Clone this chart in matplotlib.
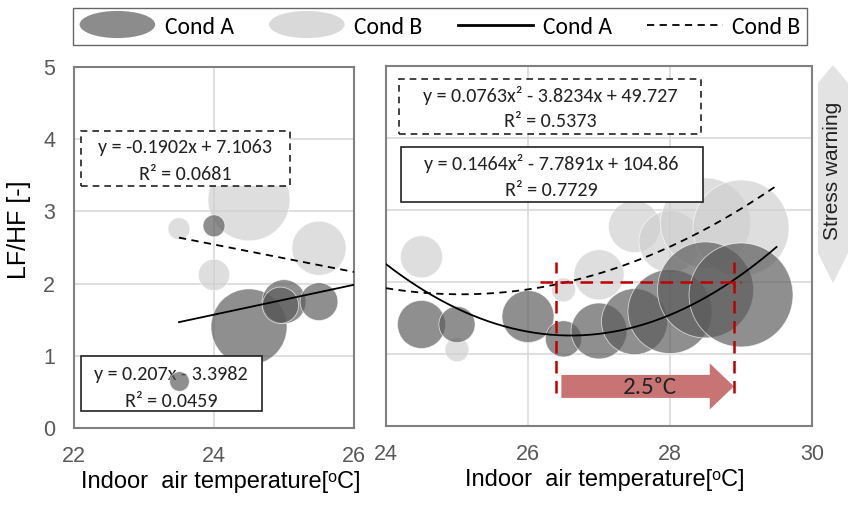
import matplotlib
matplotlib.use("Agg")
import matplotlib.pyplot as plt
import matplotlib.patches as mpatches
from matplotlib.lines import Line2D
from matplotlib.legend_handler import HandlerPatch
import numpy as np

# ---- data -------------------------------------------------------------
# left panel: bubbles (temperature, LF/HF, bubble weight)
left_a_temp = [24.0, 24.5, 25.0, 24.95, 25.5, 23.5]
left_a_lfhf = [2.80, 1.40, 1.75, 1.70, 1.75, 0.65]
left_a_weight = [12.5, 150, 50, 34, 37, 10]

left_b_temp = [24.5, 23.5, 24.0, 25.5]
left_b_lfhf = [3.16, 2.76, 2.12, 2.49]
left_b_weight = [174, 12.5, 25.5, 76]

# right panel
right_a_temp = [24.5, 25.0, 26.0, 26.5, 27.0, 27.5, 28.0, 28.5, 29.0]
right_a_lfhf = [1.41, 1.41, 1.52, 1.21, 1.32, 1.45, 1.59, 1.89, 1.82]
right_a_weight = [60, 34, 70, 34, 81, 113, 183, 239, 280]

right_b_temp = [24.5, 25.0, 26.5, 27.0, 27.5, 28.0, 28.5, 29.0]
right_b_lfhf = [2.35, 1.06, 1.89, 2.10, 2.77, 2.56, 2.82, 2.75]
right_b_weight = [46, 15, 15, 65, 70, 100, 210, 239]

# fitted trend lines
left_fit_a = [0.207, -3.3982]           # linear
left_fit_b = [-0.1902, 7.1063]
left_fit_range = [23.5, 26.0]
right_fit_a = [0.1464, -7.7891, 104.86]  # quadratic
right_fit_b = [0.0763, -3.8234, 49.727]
right_fit_range = [24.0, 29.5]

# stress threshold
lfhf_threshold = 2.0
temp_low, temp_high = 26.4, 28.9
shift_label = "2.5ᵒC"

# ---- styling ------------------------------------------------------------
DARK = "#5a5a5a"
LIGHT = "#cfcfcf"
GRID = "#d9d9d9"
FRAME = "#808080"
TICK = "#595959"
RED = "#c00000"
ARROW = "#c97474"
SCALE = 20.0

SANS = ["Liberation Sans", "DejaVu Sans"]
EQ = ["Carlito", "DejaVu Sans"]

fig = plt.figure(figsize=(8.48, 5.05), dpi=100)
W, H = 848.0, 505.0


def axes_px(x0, y0, x1, y1):
    return fig.add_axes([x0 / W, 1 - y1 / H, (x1 - x0) / W, (y1 - y0) / H])


axL = axes_px(74, 67, 354, 428)
axR = axes_px(386, 66, 812, 426)


def style_axes(ax, xlim, xticks, show_y, label_shift):
    ax.set_xlim(*xlim)
    ax.set_ylim(0, 5)
    ax.set_xticks(xticks)
    ax.set_yticks([0, 1, 2, 3, 4, 5])
    ax.grid(True, color=GRID, linewidth=1.2, zorder=0)
    ax.set_axisbelow(True)
    for sp in ax.spines.values():
        sp.set_color(FRAME)
        sp.set_linewidth(1.5)
    ax.tick_params(length=0, colors=TICK, labelsize=15.5, pad=13)
    ax.tick_params(axis="y", pad=13.5)
    for lab in ax.get_xticklabels() + ax.get_yticklabels():
        lab.set_family(SANS)
    if not show_y:
        ax.set_yticklabels([])
    ax.set_xlabel("Indoor  air temperature[ᵒC]", family=SANS, fontsize=17,
                  color="black", labelpad=2.5)
    ax.xaxis.label.set_x(0.5 + label_shift)


style_axes(axL, (22, 26), [22, 24, 26], True, 0.025)
style_axes(axR, (24, 30), [24, 26, 28, 30], False, 0.014)


def bubbles(ax, t, v, w, color, z):
    ax.scatter(t, v, s=np.array(w) * SCALE, color=color, alpha=0.68,
               edgecolors="white", linewidths=0.6, zorder=z, clip_on=True)


bubbles(axL, left_b_temp, left_b_lfhf, left_b_weight, LIGHT, 2)
bubbles(axL, left_a_temp, left_a_lfhf, left_a_weight, DARK, 3)
bubbles(axR, right_b_temp, right_b_lfhf, right_b_weight, LIGHT, 2)
bubbles(axR, right_a_temp, right_a_lfhf, right_a_weight, DARK, 3)

xl = np.linspace(*left_fit_range, 50)
axL.plot(xl, np.polyval(left_fit_a, xl), color="black", lw=1.3, zorder=5)
axL.plot(xl, np.polyval(left_fit_b, xl), color="black", lw=1.3,
         dashes=(4, 3), zorder=5)
xr = np.linspace(*right_fit_range, 200)
axR.plot(xr, np.polyval(right_fit_a, xr), color="black", lw=1.3, zorder=5)
axR.plot(xr, np.polyval(right_fit_b, xr), color="black", lw=1.3,
         dashes=(4, 3), zorder=5)


def eq_box(ax, x0, y0, x1, y1, lines, ys, dashed):
    rect = mpatches.Rectangle((x0, y0), x1 - x0, y1 - y0, transform=ax.transAxes,
                              facecolor="white", edgecolor="#222222", lw=1.2,
                              linestyle=(0, (4, 3)) if dashed else "-", zorder=6)
    ax.add_patch(rect)
    xc = (x0 + x1) / 2
    for txt, yy in zip(lines, ys):
        ax.text(xc, yy, txt, transform=ax.transAxes, ha="center", va="center",
                family=EQ, fontsize=14.5, color="#222222", zorder=7)


eq_box(axL, 0.024, 0.671, 0.771, 0.824,
       ["y = -0.1902x + 7.1063", "R² = 0.0681"], [0.778, 0.703], True)
eq_box(axL, 0.024, 0.047, 0.670, 0.199,
       ["y = 0.207x - 3.3982", "R² = 0.0459"], [0.147, 0.073], False)
eq_box(axR, 0.0305, 0.811, 0.739, 0.964,
       ["y = 0.0763x² - 3.8234x + 49.727", "R² = 0.5373"], [0.919, 0.845], True)
eq_box(axR, 0.0345, 0.622, 0.743, 0.775,
       ["y = 0.1464x² - 7.7891x + 104.86", "R² = 0.7729"], [0.728, 0.654], False)

# bring the small left bubble in front of its equation box
axL.scatter(left_a_temp[-1:], left_a_lfhf[-1:], s=np.array(left_a_weight[-1:]) * SCALE,
            color=DARK, alpha=0.68, edgecolors="white", linewidths=0.6, zorder=8)

# threshold guides
red_kw = dict(color=RED, lw=1.8, dashes=(5, 3), zorder=9)
axR.plot([26.17, 29.0], [lfhf_threshold, lfhf_threshold], **red_kw)
axR.plot([temp_low, temp_low], [0.46, 2.28], **red_kw)
axR.plot([temp_high, temp_high], [0.46, 2.28], **red_kw)

arrow = mpatches.FancyArrow(temp_low + 0.07, 0.55, temp_high - temp_low - 0.07, 0,
                            width=0.32, head_width=0.64, head_length=0.34,
                            length_includes_head=True, color=ARROW, lw=0, zorder=8)
axR.add_patch(arrow)
axR.text(27.72, 0.53, shift_label, ha="center", va="center", family=EQ,
         fontsize=18, color="#222222", zorder=10)

# y label
fig.text(19 / W, 1 - 230 / H, "LF/HF [-]", rotation=90, ha="center", va="center",
         family=SANS, fontsize=18, color="black")

# stress warning double arrow
pts = np.array([[833, 65], [848, 83], [848, 253], [833, 283], [818, 253], [818, 83]])
poly = mpatches.Polygon(np.column_stack([pts[:, 0] / W, 1 - pts[:, 1] / H]),
                        closed=True, transform=fig.transFigure,
                        facecolor="#e3e3e3", edgecolor="none")
fig.patches.append(poly)
fig.text(833 / W, 1 - 171 / H, "Stress warning", rotation=90, ha="center",
         va="center", family=SANS, fontsize=15, color="#222222")


# legend
class HandlerEllipse(HandlerPatch):
    def create_artists(self, legend, orig_handle, xdescent, ydescent, width,
                       height, fontsize, trans):
        center = 0.5 * width - 0.5 * xdescent, 0.5 * height - 0.5 * ydescent
        p = mpatches.Ellipse(xy=center, width=width + xdescent,
                             height=(height + ydescent) * 1.0)
        self.update_prop(p, orig_handle, legend)
        p.set_transform(trans)
        return [p]


h_a = mpatches.Patch(facecolor="#8c8c8c", edgecolor="none")
h_b = mpatches.Patch(facecolor="#d9d9d9", edgecolor="none")
h_la = Line2D([], [], color="black", lw=2)
h_lb = Line2D([], [], color="black", lw=1.3, dashes=(4, 3))
leg = fig.legend([h_a, h_b, h_la, h_lb], ["Cond A", "Cond B", "Cond A", "Cond B"],
                 loc="center", bbox_to_anchor=(440 / W, 1 - 26.5 / H), ncol=4,
                 handler_map={mpatches.Patch: HandlerEllipse()},
                 prop={"family": EQ, "size": 17}, frameon=True, fancybox=False,
                 edgecolor="#404040", handlelength=3.2, handleheight=1.15,
                 handletextpad=0.4, columnspacing=1.5, borderpad=0.3)
leg.get_frame().set_linewidth(1.0)

fig.savefig("out.png", dpi=100)
